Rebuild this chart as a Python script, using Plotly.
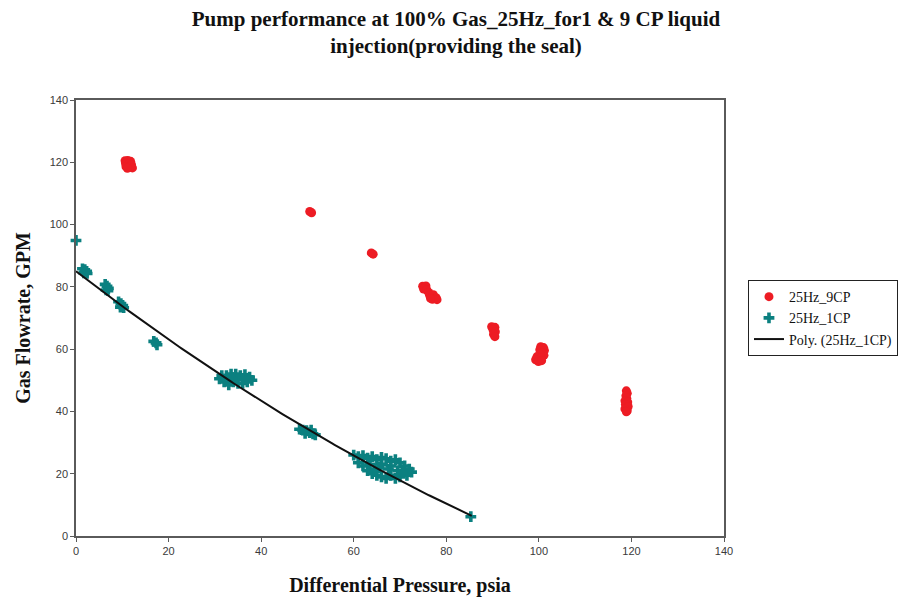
import numpy as np
import plotly.graph_objects as go

# ---- data ----
cp9_x = [10.6, 11.2, 11.8, 10.7, 11.4, 12.0, 10.8, 11.5, 12.2, 11.1,
         50.5, 50.9,
         63.8, 64.2,
         74.9, 75.6, 75.1, 75.8, 76.2, 76.4, 77.2, 77.8, 77.0, 78.0, 76.6,
         89.8, 90.5, 90.1, 90.6, 90.2, 90.5,
         100.4, 101.0, 100.2, 101.2, 100.8, 101.1, 100.3, 99.6, 100.4, 99.3, 99.9, 100.6,
         118.9, 119.1, 118.8, 119.0, 118.6, 119.2, 118.7, 119.3, 118.6, 119.1, 118.9]
cp9_y = [120.5, 120.6, 120.3, 119.6, 119.4, 119.2, 118.6, 118.4, 118.2, 118.1,
         104.2, 103.8,
         90.9, 90.5,
         80.2, 80.3, 79.3, 79.0, 78.2, 77.3, 77.5, 76.5, 76.0, 75.9, 76.3,
         67.2, 67.0, 66.2, 65.6, 64.8, 64.0,
         60.8, 60.5, 59.8, 59.6, 58.8, 58.0, 58.2, 57.6, 57.2, 56.6, 56.0, 56.3,
         46.6, 45.8, 45.0, 44.2, 43.4, 43.0, 42.2, 41.6, 40.8, 40.2, 39.9]

cp1_x = [0.0,
         1.4, 1.9, 2.3, 1.7, 2.4,
         6.3, 6.7, 7.0, 6.5, 6.9,
         9.2, 9.7, 10.1, 10.3, 9.6,
         16.8, 17.3, 17.5,
         31.5, 32.5, 33.5, 34.5, 35.5, 36.5, 37.5, 38.0, 37.0, 36.0, 35.0, 34.0, 33.0, 32.0, 31.0, 34.0, 36.0, 32.8,
         48.3, 49.0, 49.8, 50.5, 51.2, 51.7, 49.5, 50.8,
         60, 61, 62, 63, 64, 65, 66, 67, 68, 69, 70, 71, 72, 72.5, 71.5, 70, 69, 68, 67, 66, 65, 64, 63, 62, 61,
         63.5, 65.5, 67.5, 69.5, 66, 68, 64.5, 70.5,
         85.3]
cp1_y = [94.9,
         85.8, 85.5, 85.0, 84.5, 84.3,
         80.8, 80.2, 79.5, 79.0, 78.8,
         75.2, 74.6, 74.0, 73.3, 73.5,
         62.5, 62.0, 61.4,
         51.5, 51.5, 52.0, 52.0, 51.5, 51.8, 51.0, 50.0, 49.5, 49.0, 49.0, 49.5, 48.5, 49.5, 50.5, 50.5, 50.5, 50.2,
         34.3, 34.0, 33.8, 33.2, 32.8, 32.5, 33.0, 34.0,
         26, 25.5, 25.8, 25, 25.5, 24.5, 25.2, 24.8, 24, 24.5, 23.5, 22.5, 21.5, 20.5, 19.5, 19, 18.5, 19.5, 18.5, 19, 19.5, 20, 21, 22.5, 23.5,
         23, 22, 21.5, 21, 23, 22.5, 21.5, 20.5,
         6.2]

# 2nd-order polynomial trendline of 25Hz_1CP (coefficients:
# constant, linear, quadratic) and the x-span it is drawn over
poly_coef = [85.0, -1.148, 0.002687]
poly_span = [0.0, 85.5]

x_ticks = [0, 20, 40, 60, 80, 100, 120, 140]
y_ticks = [0, 20, 40, 60, 80, 100, 120, 140]

title_lines = ["Pump performance at 100% Gas_25Hz_for1 & 9 CP liquid",
               "injection(providing the seal)"]
x_title = "Differential Pressure, psia"
y_title = "Gas Flowrate, GPM"

trend_x = np.linspace(poly_span[0], poly_span[1], 200)
trend_y = np.polyval(poly_coef[::-1], trend_x)

serif = "Liberation Serif, Times New Roman, serif"
sans = "Liberation Sans, Arial, sans-serif"

fig = go.Figure()
fig.add_trace(go.Scatter(x=cp9_x, y=cp9_y, mode="markers", name="25Hz_9CP",
                         marker=dict(symbol="circle", size=9, color="#ed1c24",
                                     line=dict(width=0)),
                         cliponaxis=False))
fig.add_trace(go.Scatter(x=cp1_x, y=cp1_y, mode="markers", name="25Hz_1CP",
                         marker=dict(symbol="cross", size=9, color="#0b8080",
                                     line=dict(width=0)),
                         cliponaxis=False))
fig.add_trace(go.Scatter(x=trend_x, y=trend_y, mode="lines", name="Poly. (25Hz_1CP)",
                         line=dict(color="#111111", width=2)))

axis_common = dict(showgrid=False, zeroline=False, showline=True, mirror=True,
                   linecolor="#5a5a5a", linewidth=1.5, ticks="outside", ticklen=4,
                   tickcolor="#5a5a5a", tickfont=dict(family=sans, size=11, color="#3a3a3a"))

fig.update_layout(
    width=912, height=604,
    paper_bgcolor="white", plot_bgcolor="white",
    margin=dict(l=76, r=188, t=100, b=68),
    title=dict(text="<br>".join("<b>" + t + "</b>" for t in title_lines),
               x=0.5, xanchor="center", xref="container",
               y=0.957, yref="container", yanchor="middle",
               font=dict(family=serif, size=21, color="#111111")),
    xaxis=dict(range=[0, 140], tickvals=x_ticks,
               title=dict(text="<b>" + x_title + "</b>", standoff=22,
                          font=dict(family=serif, size=20, color="#111111")),
               **axis_common),
    yaxis=dict(range=[0, 140], tickvals=y_ticks,
               title=dict(text="<b>" + y_title + "</b>", standoff=14,
                          font=dict(family=serif, size=20, color="#111111")),
               **axis_common),
    legend=dict(x=1.037, y=0.587, xanchor="left", yanchor="top",
                bordercolor="#222222", borderwidth=1, bgcolor="white",
                font=dict(family=serif, size=14, color="#111111"),
                itemwidth=30),
    showlegend=True,
)

fig.write_html("out.html")
